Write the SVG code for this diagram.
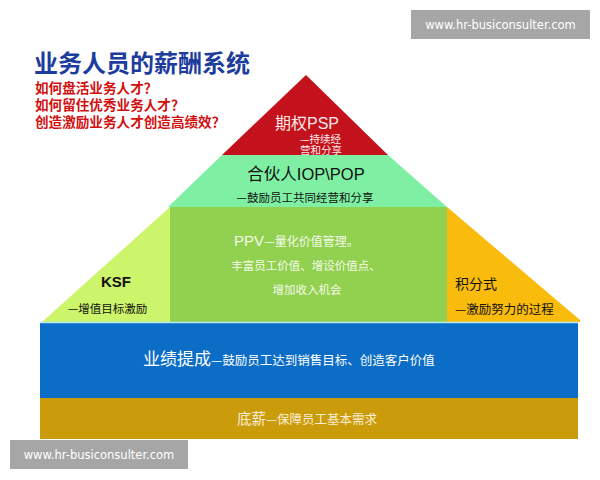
<svg xmlns="http://www.w3.org/2000/svg" width="600" height="480" viewBox="0 0 600 480">
<style>
.cjk{font-family:"Noto Sans CJK SC","Liberation Sans",sans-serif}
.lat{font-family:"Liberation Sans","Noto Sans CJK SC",sans-serif}
.q{font-size:13.6px;font-weight:bold;fill:#d21010}
.wm{font-family:"DejaVu Sans","Liberation Sans",sans-serif;font-size:11.5px;fill:#ffffff}
</style>
<rect width="600" height="480" fill="#ffffff"/>
<g id="title">
<text x="34" y="72" class="cjk" font-size="24" font-weight="bold" fill="#1c3c9e">业务人员的薪酬系统</text>
<text x="35" y="93" class="cjk q">如何盘活业务人才？</text>
<text x="35" y="110" class="cjk q">如何留住优秀业务人才？</text>
<text x="35" y="127" class="cjk q">创造激励业务人才创造高绩效？</text>
</g>
<g id="psp">
<polygon points="306,75 388,155 222,155" fill="#c3121c"/>
<text x="275" y="129" class="cjk" font-size="16" fill="#fbe9e9">期权<tspan class="lat">PSP</tspan></text>
<text x="300" y="143" class="cjk" font-size="10.5" fill="#fbe9e9">—持续经</text>
<text x="300" y="154" class="cjk" font-size="10.5" fill="#fbe9e9">营和分享</text>
</g>
<g id="iop">
<polygon points="222,155 388,155 447,207 168,207" fill="#7ff0a3"/>
<text x="306" y="180" text-anchor="middle" class="cjk" font-size="16.5" fill="#111111">合伙人<tspan class="lat">IOP\POP</tspan></text>
<text x="305" y="202" text-anchor="middle" class="cjk" font-size="11.5" fill="#111111">—鼓励员工共同经营和分享</text>
</g>
<g id="ksf">
<polygon points="170,207 170,322 42,322" fill="#ccf56b"/>
<text x="116" y="287" text-anchor="middle" class="lat" font-size="15" font-weight="bold" fill="#111111">KSF</text>
<text x="68" y="313" class="cjk" font-size="11.5" fill="#111111">—增值目标激励</text>
</g>
<g id="jifen">
<polygon points="447,207 580,320 580,322 447,322" fill="#f9bb0c"/>
<text x="455" y="289" class="cjk" font-size="14" fill="#111111">积分式</text>
<text x="455" y="314" class="cjk" font-size="12.5" fill="#111111">—激励努力的过程</text>
</g>
<g id="ppv">
<rect x="170" y="207" width="277" height="115" fill="#92d050"/>
<text x="234" y="246" class="cjk" font-size="12" fill="#f4fbe9"><tspan class="lat" font-size="15">PPV</tspan>—量化价值管理。</text>
<text x="306" y="270" text-anchor="middle" class="cjk" font-size="11.5" fill="#f4fbe9">丰富员工价值、增设价值点、</text>
<text x="307" y="294" text-anchor="middle" class="cjk" font-size="11.5" fill="#f4fbe9">增加收入机会</text>
</g>
<g id="ticheng">
<rect x="40" y="322" width="538" height="76" fill="#0b6dc6"/>
<line x1="40" y1="322.5" x2="578" y2="322.5" stroke="#b8e8f0" stroke-width="1.5"/>
<text x="143" y="365" class="cjk" font-size="17" fill="#ffffff">业绩提成<tspan font-size="12.5">—鼓励员工达到销售目标、创造客户价值</tspan></text>
</g>
<g id="dixin">
<rect x="40" y="398" width="538" height="41" fill="#ca9c0c"/>
<text x="307" y="424" text-anchor="middle" class="cjk" font-size="14.5" fill="#fbedd0">底薪<tspan font-size="12.5">—保障员工基本需求</tspan></text>
</g>
<g id="connectors"></g>
<g id="watermark-top">
<rect x="411" y="10" width="179" height="29" fill="#a6a6a6"/>
<text x="500.5" y="29" text-anchor="middle" class="wm">www.hr-busiconsulter.com</text>
</g>
<g id="watermark-bottom">
<rect x="10" y="440" width="178" height="29" fill="#a6a6a6"/>
<text x="99" y="459" text-anchor="middle" class="wm">www.hr-busiconsulter.com</text>
</g>
</svg>
